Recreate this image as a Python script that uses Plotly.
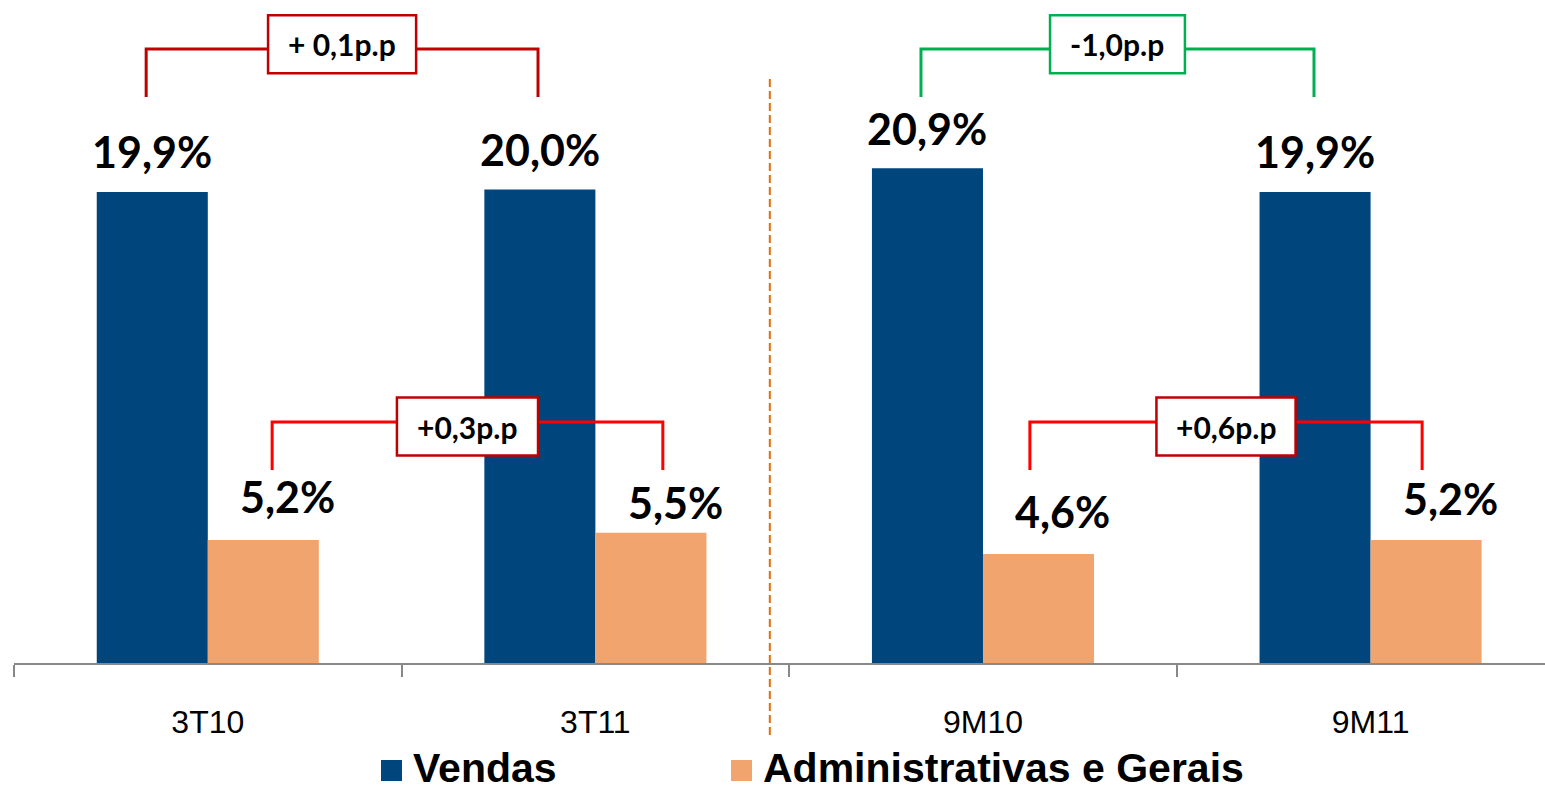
import plotly.graph_objects as go

# ---------------- data ----------------
categories = ["3T10", "3T11", "9M10", "9M11"]
vendas = [19.9, 20.0, 20.9, 19.9]
admin = [5.2, 5.5, 4.6, 5.2]
vendas_labels = ["19,9%", "20,0%", "20,9%", "19,9%"]
admin_labels = ["5,2%", "5,5%", "4,6%", "5,2%"]
series_names = ["Vendas", "Administrativas e Gerais"]

# comparison brackets: (from category idx, to category idx, label)
bracket_from = [0, 2, 0, 2]
bracket_to = [1, 3, 1, 3]
bracket_text = ["+ 0,1p.p", "-1,0p.p", "+0,3p.p", "+0,6p.p"]

# ---------------- style ----------------
C_VENDAS = "#00457C"
C_ADMIN = "#F2A46F"
bargap = 0.427
half = (1 - bargap) / 4  # offset of each bar centre from category centre

bracket_off_a = [-0.159, -0.160, 0.166, 0.121]
bracket_off_b = [-0.148, -0.146, 0.174, 0.133]
bracket_line_col = ["#C00000", "#00B050", "#FF0000", "#FF0000"]
bracket_box_col = ["#C00000", "#00B050", "#C00000", "#C00000"]
bracket_box_w = [0.382, 0.348, 0.364, 0.359]
bracket_box_dy = [0.2, 0.2, -0.19, -0.19]
bracket_y_top = [25.94, 25.94, 10.18, 10.18]
bracket_y_low = [23.91, 23.91, 8.15, 8.15]
box_h = 2.45

vendas_label_dy = [40, 40, 40, 40]
admin_label_dy = [43, 30, 43, 41]

YMAX = 28.01
L, R, T, B = 14, 0, 0, 131
W, H = 1545, 794
PW, PH = W - L - R, H - T - B

label_font = dict(family="Lato, 'Open Sans', sans-serif", size=43, color="black", weight="bold")
box_font = dict(family="Lato, 'Open Sans', sans-serif", size=30, color="black", weight="bold")

fig = go.Figure()
fig.add_trace(go.Bar(x=categories, y=vendas, name=series_names[0],
                     marker=dict(color=C_VENDAS, line=dict(width=0)), showlegend=False))
fig.add_trace(go.Bar(x=categories, y=admin, name=series_names[1],
                     marker=dict(color=C_ADMIN, line=dict(width=0)), showlegend=False))

annotations = []
shapes = []

# value labels
for i in range(len(categories)):
    annotations.append(dict(x=i - half, y=vendas[i], xref="x", yref="y", text=vendas_labels[i],
                            showarrow=False, yanchor="middle", yshift=vendas_label_dy[i],
                            font=label_font))
    annotations.append(dict(x=i + half + 0.063, y=admin[i], xref="x", yref="y", text=admin_labels[i],
                            showarrow=False, yanchor="middle", yshift=admin_label_dy[i],
                            font=label_font))

# brackets
for k in range(len(bracket_text)):
    xa = bracket_from[k] + bracket_off_a[k]
    xb = bracket_to[k] + bracket_off_b[k]
    yt, yl = bracket_y_top[k], bracket_y_low[k]
    lc = bracket_line_col[k]
    shapes.append(dict(type="path", xref="x", yref="y", layer="above",
                       path=f"M {xa},{yl} L {xa},{yt} L {xb},{yt} L {xb},{yl}",
                       line=dict(color=lc, width=3)))
    xm = (xa + xb) / 2
    bw = bracket_box_w[k]
    yc = yt + bracket_box_dy[k]
    shapes.append(dict(type="rect", xref="x", yref="y", layer="above",
                       x0=xm - bw / 2, x1=xm + bw / 2, y0=yc - box_h / 2, y1=yc + box_h / 2,
                       fillcolor="white", line=dict(color=bracket_box_col[k], width=2.5)))
    annotations.append(dict(x=xm, y=yc, xref="x", yref="y", text=bracket_text[k],
                            showarrow=False, font=box_font, yanchor="middle"))

# separator dashed line
shapes.append(dict(type="line", xref="x", yref="paper", x0=1.45, x1=1.45,
                   y0=(PH - 735 + T) / PH, y1=(PH - 75 + T) / PH, layer="above",
                   line=dict(color="#E46C0A", width=2, dash="8px,4px")))

# manual legend
leg_items = [(series_names[0], C_VENDAS, 381), (series_names[1], C_ADMIN, 731)]
for name, col, px in leg_items:
    shapes.append(dict(type="rect", xref="paper", yref="paper",
                       x0=(px - L) / PW, x1=(px + 21 - L) / PW,
                       y0=(PH - 781) / PH, y1=(PH - 760) / PH,
                       fillcolor=col, line=dict(width=0)))
    annotations.append(dict(x=(px + 30 - L) / PW, y=(PH - 768) / PH, xref="paper", yref="paper",
                            text=f"<b>{name}</b>", showarrow=False, xanchor="left", yanchor="middle",
                            font=dict(family="'Liberation Sans', Arial, sans-serif", size=41, color="black")))

fig.update_layout(
    width=W, height=H,
    margin=dict(l=L, r=R, t=T, b=B, pad=0),
    paper_bgcolor="white", plot_bgcolor="white",
    barmode="group", bargap=bargap, bargroupgap=0,
    showlegend=False,
    shapes=shapes, annotations=annotations,
    xaxis=dict(type="category", range=[-0.5, 3.45], showgrid=False, zeroline=False,
               showline=True, linecolor="#888888", linewidth=2,
               ticks="outside", tickson="boundaries", ticklen=12, tickcolor="#888888", tickwidth=2,
               tickfont=dict(family="'Liberation Sans', Arial, sans-serif", size=32, color="black"),
               ticklabelstandoff=30),
    yaxis=dict(range=[0, YMAX], visible=False, showgrid=False, zeroline=False),
)

fig.write_html("out.html", config={"displayModeBar": False},
               post_script="document.body.style.margin='0';document.body.style.overflow='hidden';")
